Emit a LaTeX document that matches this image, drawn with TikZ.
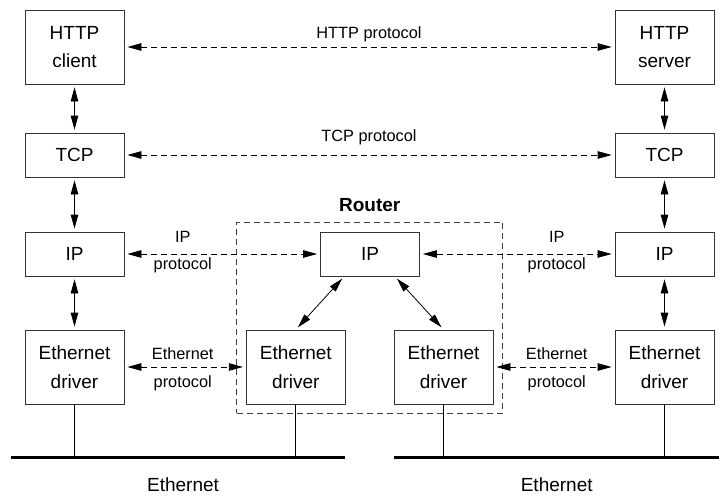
\documentclass[tikz,border=0pt]{standalone}
\usepackage{fontspec}
\setmainfont{Liberation Sans}
\usetikzlibrary{arrows.meta}

\tikzset{
  layer/.style = {draw = black!80, line width = 0.8pt, rectangle, align = center, minimum width = 99pt, inner sep = 0pt, font = \fontsize{19}{28.5}\selectfont},
  stack/.style = {<->, >={Triangle[length=14pt, width=7.5pt]}, line width = 0.8pt, shorten <= 3pt, shorten >= 3pt},
  peer/.style = {stack, dash pattern = on 6pt off 4pt},
  proto/.style = {inner sep = 0pt, font = \fontsize{16.3}{19}\selectfont},
  bus/.style = {line width = 3.3pt},
}

\begin{document}
\begin{tikzpicture}[x=1pt, y=-1pt]
      \useasboundingbox (0, 0) rectangle (719, 495);

      % left host
      \node[layer, minimum height = 74pt] at (74.5, 47) (httpC) {HTTP\\client};
      \node[layer, minimum height = 44pt] at (74.5, 155) (tcpC) {TCP};
      \node[layer, minimum height = 44pt] at (74.5, 254) (ipC) {IP};
      \node[layer, minimum height = 74pt] at (74.5, 367) (ethC) {Ethernet\\driver};

      % right host
      \node[layer, minimum height = 74pt] at (664.5, 47) (httpS) {HTTP\\server};
      \node[layer, minimum height = 44pt] at (664.5, 155) (tcpS) {TCP};
      \node[layer, minimum height = 44pt] at (664.5, 254) (ipS) {IP};
      \node[layer, minimum height = 74pt] at (664.5, 367) (ethS) {Ethernet\\driver};

      % router
      \node[draw = black!75, line width = 0.8pt, dash pattern = on 6pt off 4pt, minimum width = 266pt, minimum height = 191pt, inner sep = 0pt] at (369.7, 317.7) (router) {};
      \node[anchor = base, font = \fontsize{19}{22}\selectfont\bfseries] at ([yshift=10pt]router.north) (routerT) {Router};
      \node[layer, minimum height = 44pt] at (370, 254) (ipR) {IP};
      \node[layer, minimum height = 74pt] at (295.8, 367) (ethRL) {Ethernet\\driver};
      \node[layer, minimum height = 74pt] at (443.5, 367) (ethRR) {Ethernet\\driver};

      % stacks
      \draw[stack] (httpC) -- (tcpC);
      \draw[stack] (tcpC) -- (ipC);
      \draw[stack] (ipC) -- (ethC);
      \draw[stack] (httpS) -- (tcpS);
      \draw[stack] (tcpS) -- (ipS);
      \draw[stack] (ipS) -- (ethS);
      \draw[stack] (ipR.221.6) -- (ethRL.north);
      \draw[stack] (ipR.318.4) -- (ethRR.north);

      % peer protocols
      \draw[peer] (httpC) -- (httpS);
      \draw[peer] (tcpC) -- (tcpS);
      \draw[peer] (ipC) -- (ipR);
      \draw[peer] (ipR) -- (ipS);
      \draw[peer] (ethC) -- (ethRL);
      \draw[peer] (ethRR) -- (ethS);

      \node[proto] at (369, 34) (httpP) {HTTP protocol};
      \node[proto] at (369, 137.5) (tcpP) {TCP protocol};
      \node[proto] at (182.7, 237) (ipPL1) {IP};
      \node[proto] at (182.7, 265.7) (ipPL2) {protocol};
      \node[proto] at (556.7, 237) (ipPR1) {IP};
      \node[proto] at (556.7, 265.7) (ipPR2) {protocol};
      \node[proto] at (182.7, 354) (ethPL1) {Ethernet};
      \node[proto] at (182.7, 383) (ethPL2) {protocol};
      \node[proto] at (556.7, 354) (ethPR1) {Ethernet};
      \node[proto] at (556.7, 383) (ethPR2) {protocol};

      % cables
      \coordinate (busL) at (10.7, 457.7);
      \coordinate (busLe) at (345, 457.7);
      \coordinate (busR) at (394.3, 457.7);
      \coordinate (busRe) at (719, 457.7);
      \draw[bus] (busL) -- (busLe);
      \draw[bus] (busR) -- (busRe);
      \draw[line width = 0.8pt] (ethC.south) -- (ethC.south |- busL);
      \draw[line width = 0.8pt] (ethRL.south) -- (ethRL.south |- busL);
      \draw[line width = 0.8pt] (ethRR.south) -- (ethRR.south |- busR);
      \draw[line width = 0.8pt] (ethS.south) -- (ethS.south |- busR);

      \node[layer, draw = none] at (183, 485) (netL) {Ethernet};
      \node[layer, draw = none] at (556.7, 485) (netR) {Ethernet};
    \end{tikzpicture}
\end{document}
